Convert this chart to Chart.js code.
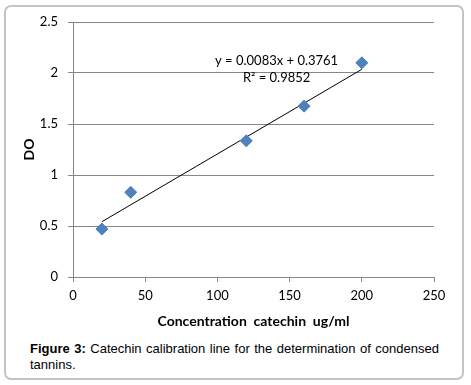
<!DOCTYPE html>
<html>
<head>
<meta charset="utf-8">
<script src="https://cdn.jsdelivr.net/npm/chart.js@4.4.1/dist/chart.umd.min.js"></script>
<style>
  html, body { margin: 0; padding: 0; background: #fff; }
  #wrap { position: relative; width: 471px; height: 385px; overflow: hidden; }
  #frame { position: absolute; left: 4px; top: 5px; width: 456px; height: 371px;
           border: 2px solid #c4c4c4; border-radius: 7px; box-sizing: content-box; }
  #cv { position: absolute; left: 0; top: 0; }
  #caption { position: absolute; left: 30px; top: 341px; width: 409px;
             font-family: "Liberation Sans", Arial, sans-serif; font-size: 13px;
             line-height: 16px; color: #000; text-align: justify; }
</style>
</head>
<body>
<div id="wrap">
  <div id="frame"></div>
  <canvas id="cv" width="471" height="340"></canvas>
  <div id="caption"><b>Figure 3:</b> Catechin calibration line for the determination of condensed tannins.</div>
</div>
<script>
const concentrations = [20, 40, 120, 160, 200];
const absorbance = [0.47, 0.83, 1.335, 1.675, 2.10];
const slope = 0.0083;
const intercept = 0.3761;
const trendX = [20, 200];
const xTicks = [0, 50, 100, 150, 200, 250];
const yTicks = [0, 0.5, 1, 1.5, 2, 2.5];
const equationLines = ["y = 0.0083x + 0.3761", "R² = 0.9852"];
const equationAnchor = { x: 141, y1: 2.123, y2: 1.95 };

const points = concentrations.map((c, i) => ({ x: c, y: absorbance[i] }));
const trend = trendX.map(x => ({ x: x, y: slope * x + intercept }));

const eqPlugin = {
  id: 'eq',
  afterDatasetsDraw(chart) {
    const { ctx, scales: { x, y } } = chart;
    ctx.save();
    ctx.font = '13px Lato, "Open Sans", sans-serif';
    ctx.fillStyle = '#000';
    ctx.textAlign = 'center';
    ctx.textBaseline = 'middle';
    const px = x.getPixelForValue(equationAnchor.x);
    ctx.fillText(equationLines[0], px, y.getPixelForValue(equationAnchor.y1));
    ctx.fillText(equationLines[1], px, y.getPixelForValue(equationAnchor.y2));
    ctx.restore();
  }
};

new Chart(document.getElementById('cv'), {
  type: 'scatter',
  data: {
    datasets: [
      {
        type: 'line',
        data: trend,
        borderColor: '#000',
        borderWidth: 1,
        pointRadius: 0,
        fill: false,
        order: 2
      },
      {
        data: points,
        pointStyle: 'rectRot',
        pointRadius: 6,
        pointHoverRadius: 6,
        backgroundColor: '#4F81BD',
        borderColor: '#4A7EBB',
        borderWidth: 1,
        order: 1
      }
    ]
  },
  options: {
    responsive: false,
    animation: false,
    events: [],
    layout: { padding: { left: 0, right: 37, top: 22, bottom: 0 } },
    plugins: { legend: { display: false }, tooltip: { enabled: false } },
    scales: {
      x: {
        type: 'linear',
        min: 0, max: 250,
        afterBuildTicks: s => { s.ticks = xTicks.map(v => ({ value: v })); },
        afterFit: s => { s.height = 63; },
        grid: { display: true, drawOnChartArea: false, drawTicks: true, tickLength: 5, color: '#868686' },
        border: { color: '#868686', width: 1 },
        ticks: { color: '#000', padding: 6, maxRotation: 0, font: { family: 'Lato', size: 13 },
                 callback: v => String(v) },
        title: { display: true, text: 'Concentration  catechin  ug/ml', color: '#000',
                 font: { family: 'Lato', size: 14, weight: 'bold' }, padding: { top: 0, bottom: 10 } }
      },
      y: {
        type: 'linear',
        min: 0, max: 2.5,
        afterBuildTicks: s => { s.ticks = yTicks.map(v => ({ value: v })); },
        afterFit: s => { s.width = 73; },
        grid: { color: '#868686', tickLength: 5, drawTicks: true },
        border: { color: '#868686', width: 1 },
        ticks: { color: '#000', padding: 10, font: { family: 'Lato', size: 13 },
                 callback: v => String(v) },
        title: { display: true, text: 'DO', color: '#000',
                 font: { family: 'Lato', size: 14, weight: 'bold' }, padding: { top: 21, bottom: 0 } }
      }
    }
  },
  plugins: [eqPlugin]
});
</script>
</body>
</html>
